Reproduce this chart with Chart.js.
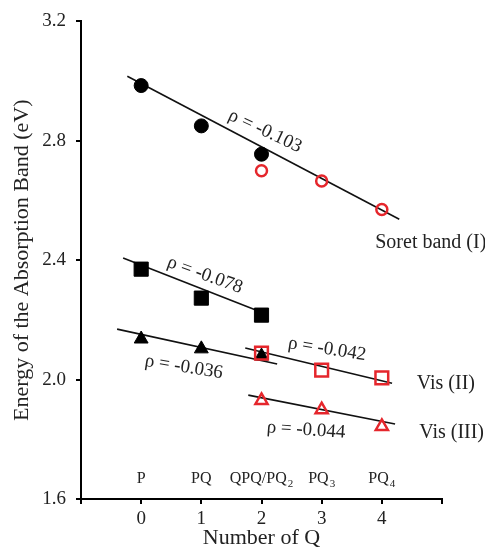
<!DOCTYPE html>
<html>
<head>
<meta charset="utf-8">
<script src="https://cdn.jsdelivr.net/npm/chart.js@4.4.0/dist/chart.umd.min.js"></script>
<style>
  html, body { margin: 0; padding: 0; background: #fff; }
  #wrap { width: 485px; height: 549px; }
</style>
</head>
<body>
<div id="wrap"><canvas id="chart"></canvas></div>
<script>
// Werte aus der Abbildung (geschätzt)
const numQ = [0, 1, 2, 3, 4];
const catMain = ['P', 'PQ', 'QPQ/PQ', 'PQ', 'PQ'];
const catSub = ['', '', '2', '3', '4'];
const yTicks = [1.6, 2.0, 2.4, 2.8, 3.2];

// Soret band (I)
const soretFilledX = [0, 1, 2];
const soretFilledY = [2.985, 2.85, 2.755];
const soretOpenX = [2, 3, 4];
const soretOpenY = [2.70, 2.665, 2.57];
const soretFitX = [-0.23, 4.29];
const soretFitY = [3.016, 2.537];

// Vis (II)
const visIIFilledX = [0, 1, 2];
const visIIFilledY = [2.37, 2.273, 2.216];
const visIIFitAX = [-0.3, 2.0];
const visIIFitAY = [2.407, 2.226];
const visIIOpenX = [2, 3, 4];
const visIIOpenY = [2.089, 2.032, 2.006];
const visIIFitBX = [1.73, 4.17];
const visIIFitBY = [2.106, 1.988];

// Vis (III)
const visIIIFilledX = [0, 1, 2];
const visIIIFilledY = [2.136, 2.103, 2.079];
const visIIIFitAX = [-0.4, 2.26];
const visIIIFitAY = [2.169, 2.052];
const visIIIOpenX = [2, 3, 4];
const visIIIOpenY = [1.93, 1.899, 1.843];
const visIIIFitBX = [1.78, 4.22];
const visIIIFitBY = [1.948, 1.851];

const RED = '#e5262c';
const SERIF = '"Liberation Serif", "DejaVu Serif", serif';

function pts(xs, ys) {
  return xs.map((x, i) => ({x: x, y: ys[i]}));
}

function markers(xs, ys, style, radius, filled) {
  return {
    data: pts(xs, ys),
    showLine: false,
    pointStyle: style,
    pointRadius: radius,
    pointHoverRadius: radius,
    backgroundColor: filled ? '#000' : 'rgba(0,0,0,0)',
    borderColor: filled ? '#000' : RED,
    pointBorderWidth: filled ? 1 : 2.5
  };
}

function fitLine(xs, ys) {
  return {
    data: pts(xs, ys),
    showLine: true,
    pointRadius: 0,
    borderColor: '#111',
    borderWidth: 1.6,
    fill: false
  };
}

// Texte im Diagramm (rho-Werte, Bandnamen, Verbindungsnamen)
const textPlugin = {
  id: 'texte',
  afterDraw(chart) {
    const ctx = chart.ctx;
    const xs = chart.scales.x, ys = chart.scales.y;
    ctx.save();
    ctx.fillStyle = '#222';

    // rho Beschriftungen, gedreht entlang der Geraden
    const rhoTexte = [
      {t: '\u03C1 = -0.103', x: 2.06, y: 2.832, a: 25},
      {t: '\u03C1 = -0.078', x: 1.06, y: 2.35, a: 20},
      {t: '\u03C1 = -0.036', x: 0.71, y: 2.042, a: 9},
      {t: '\u03C1 = -0.042', x: 3.09, y: 2.102, a: 9},
      {t: '\u03C1 = -0.044', x: 2.74, y: 1.831, a: 4}
    ];
    ctx.font = '19px ' + SERIF;
    ctx.textAlign = 'center';
    ctx.textBaseline = 'middle';
    rhoTexte.forEach(r => {
      ctx.save();
      ctx.translate(xs.getPixelForValue(r.x), ys.getPixelForValue(r.y));
      ctx.rotate(r.a * Math.PI / 180);
      ctx.fillText(r.t, 0, 0);
      ctx.restore();
    });

    // Bandnamen rechts
    const bandTexte = [
      {t: 'Soret band (I)', x: 3.89, y: 2.457},
      {t: 'Vis (II)', x: 4.58, y: 1.985},
      {t: 'Vis (III)', x: 4.62, y: 1.821}
    ];
    ctx.font = '20px ' + SERIF;
    ctx.textAlign = 'left';
    bandTexte.forEach(b => {
      ctx.fillText(b.t, xs.getPixelForValue(b.x), ys.getPixelForValue(b.y));
    });

    // Verbindungsnamen über der x-Achse, mit Index
    const yLab = ys.getPixelForValue(1.667);
    numQ.forEach((q, i) => {
      ctx.font = '16px ' + SERIF;
      const wMain = ctx.measureText(catMain[i]).width;
      ctx.font = '11px ' + SERIF;
      const wSub = catSub[i] ? ctx.measureText(catSub[i]).width + 1 : 0;
      const x0 = xs.getPixelForValue(q) - (wMain + wSub) / 2;
      ctx.font = '16px ' + SERIF;
      ctx.textAlign = 'left';
      ctx.fillText(catMain[i], x0, yLab);
      if (catSub[i]) {
        ctx.font = '11px ' + SERIF;
        ctx.fillText(catSub[i], x0 + wMain + 1, yLab + 5);
      }
    });
    ctx.restore();
  }
};

const ctx = document.getElementById('chart').getContext('2d');
const chart = new Chart(ctx, {
  type: 'scatter',
  data: {
    datasets: [
      markers(soretFilledX, soretFilledY, 'circle', 7, true),
      markers(soretOpenX, soretOpenY, 'circle', 5.5, false),
      markers(visIIFilledX, visIIFilledY, 'rect', 10, true),
      markers(visIIOpenX, visIIOpenY, 'rect', 9, false),
      markers(visIIIFilledX, visIIIFilledY, 'triangle', 8, true),
      markers(visIIIOpenX, visIIIOpenY, 'triangle', 7, false),
      fitLine(soretFitX, soretFitY),
      fitLine(visIIFitAX, visIIFitAY),
      fitLine(visIIFitBX, visIIFitBY),
      fitLine(visIIIFitAX, visIIIFitAY),
      fitLine(visIIIFitBX, visIIIFitBY)
    ]
  },
  options: {
    responsive: true,
    maintainAspectRatio: false,
    animation: false,
    layout: { padding: {top: 21, right: 43, left: 0, bottom: 0} },
    plugins: {
      legend: { display: false },
      tooltip: { enabled: false }
    },
    scales: {
      x: {
        type: 'linear',
        min: -1,
        max: 5,
        afterFit: s => { s.height = 50; },
        afterBuildTicks: s => { s.ticks = [-1].concat(numQ).concat([5]).map(v => ({value: v})); },
        border: { color: '#000', width: 2 },
        grid: { drawOnChartArea: false, drawTicks: true, tickLength: 5, color: '#000', lineWidth: 2 },
        ticks: {
          padding: 4,
          color: '#222',
          font: { family: SERIF, size: 19 },
          callback: v => (numQ.includes(v) ? String(v) : '')
        },
        title: {
          display: true,
          text: 'Number of Q',
          color: '#222',
          font: { family: SERIF, size: 22, lineHeight: 1 },
          padding: 0
        }
      },
      y: {
        type: 'linear',
        min: 1.6,
        max: 3.2,
        afterFit: s => { s.width = 81; },
        afterBuildTicks: s => { s.ticks = yTicks.map(v => ({value: v})); },
        border: { color: '#000', width: 2 },
        grid: { drawOnChartArea: false, drawTicks: true, tickLength: 5, color: '#000', lineWidth: 2 },
        ticks: {
          padding: 10,
          color: '#222',
          font: { family: SERIF, size: 19 },
          callback: v => Number(v).toFixed(1)
        },
        title: {
          display: true,
          text: 'Energy of the Absorption Band (eV)',
          color: '#222',
          font: { family: SERIF, size: 22, lineHeight: 1 },
          padding: {top: 11, bottom: 0}
        }
      }
    }
  },
  plugins: [textPlugin]
});
</script>
</body>
</html>
